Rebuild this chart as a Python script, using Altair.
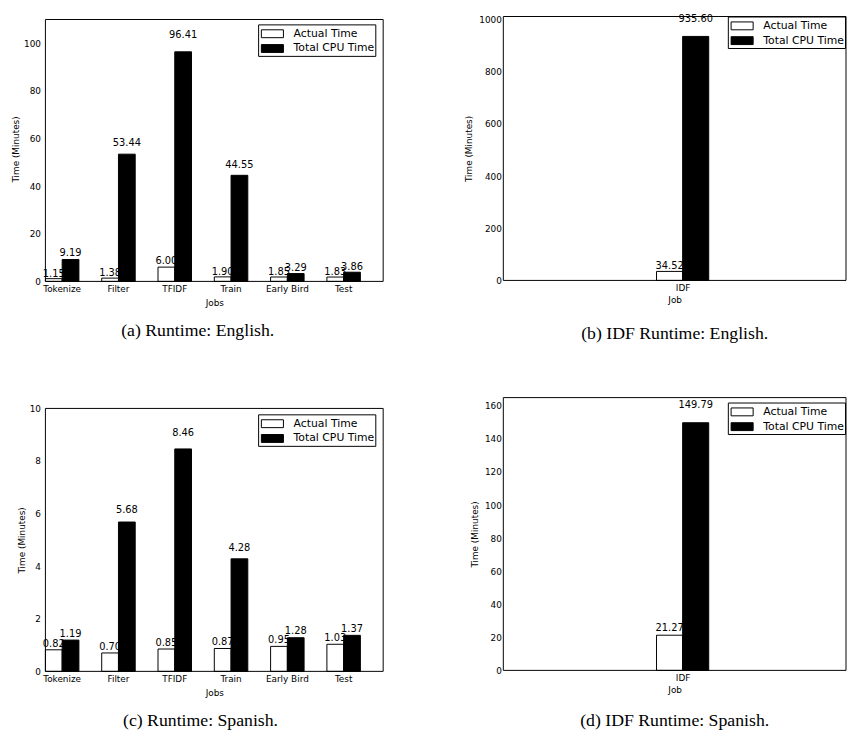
import altair as alt
import pandas as pd

# ---------------- data ----------------
SERIES = ["Actual Time", "Total CPU Time"]

JOBS = ["Tokenize", "Filter", "TFIDF", "Train", "Early Bird", "Test"]
EN_ACTUAL = [1.15, 1.38, 6.00, 1.90, 1.85, 1.83]
EN_CPU = [9.19, 53.44, 96.41, 44.55, 3.29, 3.86]
ES_ACTUAL = [0.82, 0.70, 0.85, 0.87, 0.95, 1.03]
ES_CPU = [1.19, 5.68, 8.46, 4.28, 1.28, 1.37]

IDF_JOBS = ["IDF"]
IDF_EN_ACTUAL = [34.52]
IDF_EN_CPU = [935.60]
IDF_ES_ACTUAL = [21.27]
IDF_ES_CPU = [149.79]

CAPTIONS = ["(a) Runtime: English.", "(b) IDF Runtime: English.",
            "(c) Runtime: Spanish.", "(d) IDF Runtime: Spanish."]

AX_FONT = "DejaVu Sans"
CAP_FONT = "Liberation Serif"


def make_df(jobs, actual, cpu):
    rows = []
    for j, a, c in zip(jobs, actual, cpu):
        rows.append({"job": j, "series": SERIES[0], "value": a})
        rows.append({"job": j, "series": SERIES[1], "value": c})
    return pd.DataFrame(rows)


def y_axis(yticks, lab_pad, title_pad):
    return alt.Axis(title="Time (Minutes)", values=yticks, format="d",
                    ticks=False, tickSize=0, domain=False, grid=False,
                    labelPadding=lab_pad, titlePadding=title_pad,
                    labelFontSize=9, titleFontSize=9,
                    labelFont=AX_FONT, titleFont=AX_FONT,
                    titleFontWeight="normal", labelColor="black",
                    titleColor="black")


def x_axis(title, title_pad, **kw):
    return alt.Axis(title=title, labelAngle=0, labelPadding=3,
                    titlePadding=title_pad, ticks=False, tickSize=0,
                    domain=False, grid=False,
                    labelFontSize=9, titleFontSize=9,
                    labelFont=AX_FONT, titleFont=AX_FONT,
                    titleFontWeight="normal", labelColor="black",
                    titleColor="black", **kw)


def color_enc(lx, ly):
    return alt.Color(
        "series:N", sort=SERIES,
        scale=alt.Scale(domain=SERIES, range=["white", "black"]),
        legend=alt.Legend(
            title=None, orient="none", legendX=lx, legendY=ly,
            fillColor="white", strokeColor="black", padding=1,
            labelFont=AX_FONT, labelFontSize=11, labelColor="black",
            symbolType="M-1.4,-0.5H1.4V0.5H-1.4Z", symbolSize=256,
            symbolStrokeColor="black", symbolStrokeWidth=1,
            symbolOffset=5, rowPadding=0, labelOffset=13,
            cornerRadius=0, symbolOpacity=1))


def caption_title(text, frame, offset):
    return alt.TitleParams(text, orient="bottom", font=CAP_FONT, fontSize=18,
                           fontWeight="normal", color="black", offset=offset,
                           anchor="middle", frame=frame)


def frame_layer(width, top, yscale, yax):
    return alt.Chart(pd.DataFrame({"f": [0]})).mark_rect(
        fill="transparent", stroke="black", strokeWidth=1).encode(
        x=alt.value(0), x2=alt.value(width),
        y=alt.Y(datum=0, scale=yscale, axis=yax), y2=alt.Y2(datum=top))


def panel_jobs(df, ydom, frame_top, yticks, caption, width, height, legend_xy,
               cap_offset):
    x = alt.X("job:N", sort=JOBS,
              scale=alt.Scale(paddingInner=0.405, paddingOuter=0.2025, align=0),
              axis=x_axis("Jobs", 5.5))
    xo = alt.XOffset("series:N", sort=SERIES,
                     scale=alt.Scale(paddingInner=0, paddingOuter=0))
    yax = y_axis(yticks, 5, 3)
    yscale = alt.Scale(domain=[0, ydom], nice=False, zero=True)
    base = alt.Chart(df)
    bars = base.mark_bar(stroke="black", strokeWidth=1).encode(
        x=x, xOffset=xo, y=alt.Y("value:Q", scale=yscale, axis=yax),
        color=color_enc(*legend_xy))
    labels = base.transform_calculate(label_y="datum.value * 1.05").mark_text(
        baseline="bottom", align="center", fontSize=10, font=AX_FONT,
        color="black").encode(
        x=x, xOffset=xo, y=alt.Y("label_y:Q", scale=yscale, axis=yax),
        text=alt.Text("value:Q", format=".2f"))
    fr = frame_layer(width, frame_top, yscale, yax)
    return alt.layer(bars, labels, fr).properties(
        width=width, height=height,
        title=caption_title(caption, "bounds", cap_offset))


def panel_idf(df, ydom, yticks, caption, width, height, legend_xy, cap_offset):
    xscale = alt.Scale(domain=[-5.87, 7.26], nice=False, zero=False)
    xax = x_axis("Job", 3, values=[1], labelExpr="'" + IDF_JOBS[0] + "'")
    yax = y_axis(yticks, 2, 5)
    yscale = alt.Scale(domain=[0, ydom], nice=False, zero=True)
    base = alt.Chart(df).transform_calculate(
        x0="datum.series === '" + SERIES[0] + "' ? 0 : 1",
        x1="datum.x0 + 1", xm="datum.x0 + 0.5",
        label_y="datum.value * 1.05")
    bars = base.mark_bar(stroke="black", strokeWidth=1).encode(
        x=alt.X("x0:Q", scale=xscale, axis=xax), x2="x1:Q",
        y=alt.Y("value:Q", scale=yscale, axis=yax), y2=alt.Y2(datum=0),
        color=color_enc(*legend_xy))
    labels = base.mark_text(
        baseline="bottom", align="center", fontSize=10, font=AX_FONT,
        color="black").encode(
        x=alt.X("xm:Q", scale=xscale, axis=xax),
        y=alt.Y("label_y:Q", scale=yscale, axis=yax),
        text=alt.Text("value:Q", format=".2f"))
    fr = frame_layer(width, ydom, yscale, yax)
    return alt.layer(bars, labels, fr).properties(
        width=width, height=height,
        title=caption_title(caption, "group", cap_offset))


a = panel_jobs(make_df(JOBS, EN_ACTUAL, EN_CPU), 111.25, 110,
               [0, 20, 40, 60, 80, 100], CAPTIONS[0], 343, 269, (216, 8), 15)
c = panel_jobs(make_df(JOBS, ES_ACTUAL, ES_CPU), 10, 10,
               [0, 2, 4, 6, 8, 10], CAPTIONS[2], 343, 267, (216, 6), 15)
b = panel_idf(make_df(IDF_JOBS, IDF_EN_ACTUAL, IDF_EN_CPU), 1012,
              [0, 200, 400, 600, 800, 1000], CAPTIONS[1], 348, 268, (228, 0), 21)
d = panel_idf(make_df(IDF_JOBS, IDF_ES_ACTUAL, IDF_ES_CPU), 165,
              [0, 20, 40, 60, 80, 100, 120, 140, 160], CAPTIONS[3], 348, 277,
              (228, 5), 18)

col1 = alt.vconcat(a, c, spacing=64).resolve_scale(color="independent")
col2 = alt.vconcat(b, d, spacing=54).resolve_scale(color="independent")

chart = alt.hconcat(col1, col2, spacing=81).resolve_scale(
    color="independent").properties(
    padding={"left": 3, "top": 0, "right": 0, "bottom": 0},
    background="white",
).configure_view(stroke="transparent")

chart.save("out.html", embed_options={"renderer": "svg", "actions": False})
